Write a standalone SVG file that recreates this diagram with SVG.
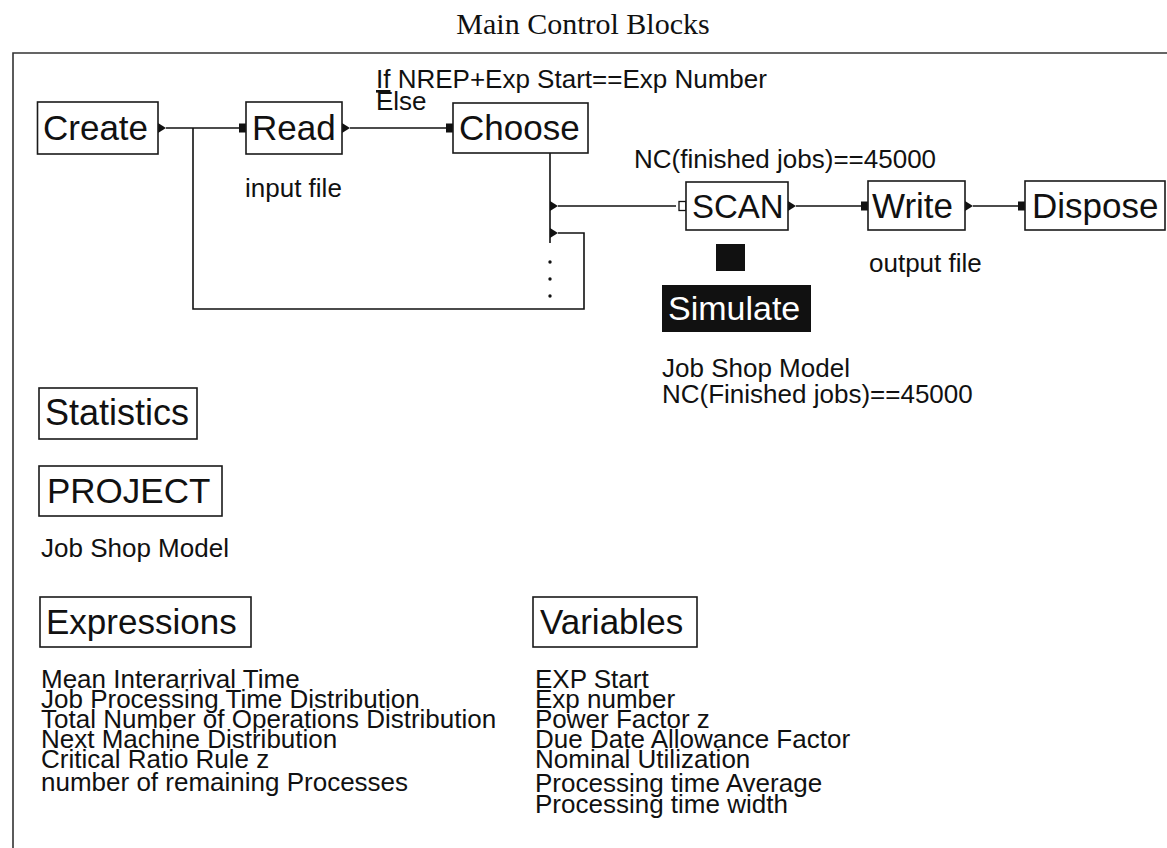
<svg xmlns="http://www.w3.org/2000/svg" width="1167" height="848" viewBox="0 0 1167 848">
  <style>
    .box{fill:#fff;stroke:#1a1a1a;stroke-width:1.6}
    .lbl{font-family:"Liberation Sans",Arial,sans-serif;font-size:35px;fill:#111}
    .note{font-family:"Liberation Sans",Arial,sans-serif;font-size:26px;fill:#111}
    .wire{fill:none;stroke:#111;stroke-width:1.6}
    .frame{fill:none;stroke:#333;stroke-width:1.6}
    .port{fill:#111}
  </style>
  <defs>
    <!-- exit port: filled triangle; entry port: filled square -->
    <path id="out" d="M0,-5 L8,0 L0,5 Z"/>
    <rect id="in" x="-7" y="-4.5" width="7" height="9"/>
  </defs>

  <rect width="1167" height="848" fill="#fff"/>
  <text x="583" y="34" text-anchor="middle" font-family="'Liberation Serif',serif" font-size="30" fill="#111">Main Control Blocks</text>
  <path class="frame" d="M13,848 V53 H1167"/>

  <!-- connectors -->
  <g id="connectors">
    <path class="wire" d="M166,128 H239"/>
    <path class="wire" d="M193,128 V309 H584 V233 H558"/>
    <path class="wire" d="M350,128 H446"/>
    <path class="wire" d="M550,153 V243"/>
    <path class="wire" d="M558,206 H676"/>
    <path class="wire" d="M796,206 H861"/>
    <path class="wire" d="M973,206 H1018"/>
    <circle cx="550" cy="262" r="1.7" class="port"/>
    <circle cx="550" cy="279" r="1.7" class="port"/>
    <circle cx="550" cy="296" r="1.7" class="port"/>
    <use href="#out" class="port" x="158" y="128"/>
    <use href="#in" class="port" x="246" y="128"/>
    <use href="#out" class="port" x="342" y="128"/>
    <use href="#in" class="port" x="453" y="128"/>
    <use href="#out" class="port" x="550" y="206"/>
    <use href="#out" class="port" x="550" y="233"/>
    <rect x="679" y="201.5" width="7" height="9" fill="#fff" stroke="#111" stroke-width="1.3"/>
    <use href="#out" class="port" x="788" y="206"/>
    <use href="#in" class="port" x="868" y="206"/>
    <use href="#out" class="port" x="965" y="206"/>
    <use href="#in" class="port" x="1025" y="206"/>
  </g>

  <g id="create">
    <rect class="box" x="37.5" y="102" width="120.5" height="52"/>
    <text class="lbl" x="43" y="140">Create</text>
  </g>
  <g id="read">
    <rect class="box" x="246" y="102" width="96" height="52"/>
    <text class="lbl" x="252" y="140">Read</text>
    <text class="note" x="245" y="197">input file</text>
  </g>
  <g id="choose">
    <rect class="box" x="453" y="103" width="135" height="50"/>
    <text class="lbl" x="459" y="140">Choose</text>
    <text class="note" x="376" y="88"><tspan text-decoration="underline">If</tspan>  NREP+Exp Start==Exp Number</text>
    <text class="note" x="376" y="110">Else</text>
  </g>
  <g id="scan">
    <rect class="box" x="686" y="182" width="102" height="48"/>
    <text class="lbl" x="692" y="218" style="font-size:33px">SCAN</text>
    <text class="note" x="634" y="168">NC(finished jobs)==45000</text>
  </g>
  <g id="write">
    <rect class="box" x="868" y="181" width="97" height="49"/>
    <text class="lbl" x="872" y="218">Write</text>
    <text class="note" x="869" y="272">output file</text>
  </g>
  <g id="dispose">
    <rect class="box" x="1025" y="181" width="140" height="49"/>
    <text class="lbl" x="1032" y="218">Dispose</text>
  </g>
  <g id="simulate">
    <rect x="716" y="244" width="29" height="27" fill="#111"/>
    <rect x="662" y="285" width="149" height="47" fill="#111"/>
    <text class="lbl" x="668" y="320" style="fill:#fff;font-size:34px">Simulate</text>
    <text class="note" x="662" y="377">Job Shop Model</text>
    <text class="note" x="662" y="403">NC(Finished jobs)==45000</text>
  </g>
  <g id="statistics">
    <rect class="box" x="39" y="388" width="158" height="51"/>
    <text class="lbl" x="45" y="425" style="font-size:36px">Statistics</text>
  </g>
  <g id="project">
    <rect class="box" x="39" y="466" width="183" height="50"/>
    <text class="lbl" x="47" y="503">PROJECT</text>
    <text class="note" x="41" y="557">Job Shop Model</text>
  </g>
  <g id="expressions">
    <rect class="box" x="40" y="597" width="211" height="50"/>
    <text class="lbl" x="46" y="634">Expressions</text>
    <text class="note" x="41">
      <tspan x="41" y="688">Mean Interarrival Time</tspan>
      <tspan x="41" y="708">Job Processing Time Distribution</tspan>
      <tspan x="41" y="728">Total Number of Operations Distribution</tspan>
      <tspan x="41" y="748">Next Machine Distribution</tspan>
      <tspan x="41" y="768">Critical Ratio Rule z</tspan>
      <tspan x="41" y="791">number of remaining Processes</tspan>
    </text>
  </g>
  <g id="variables">
    <rect class="box" x="533" y="597" width="164" height="50"/>
    <text class="lbl" x="540" y="634">Variables</text>
    <text class="note">
      <tspan x="535" y="688">EXP Start</tspan>
      <tspan x="535" y="708">Exp number</tspan>
      <tspan x="535" y="728">Power Factor z</tspan>
      <tspan x="535" y="748">Due Date Allowance Factor</tspan>
      <tspan x="535" y="768">Nominal Utilization</tspan>
      <tspan x="535" y="792">Processing time Average</tspan>
      <tspan x="535" y="813">Processing time width</tspan>
    </text>
  </g>
</svg>
